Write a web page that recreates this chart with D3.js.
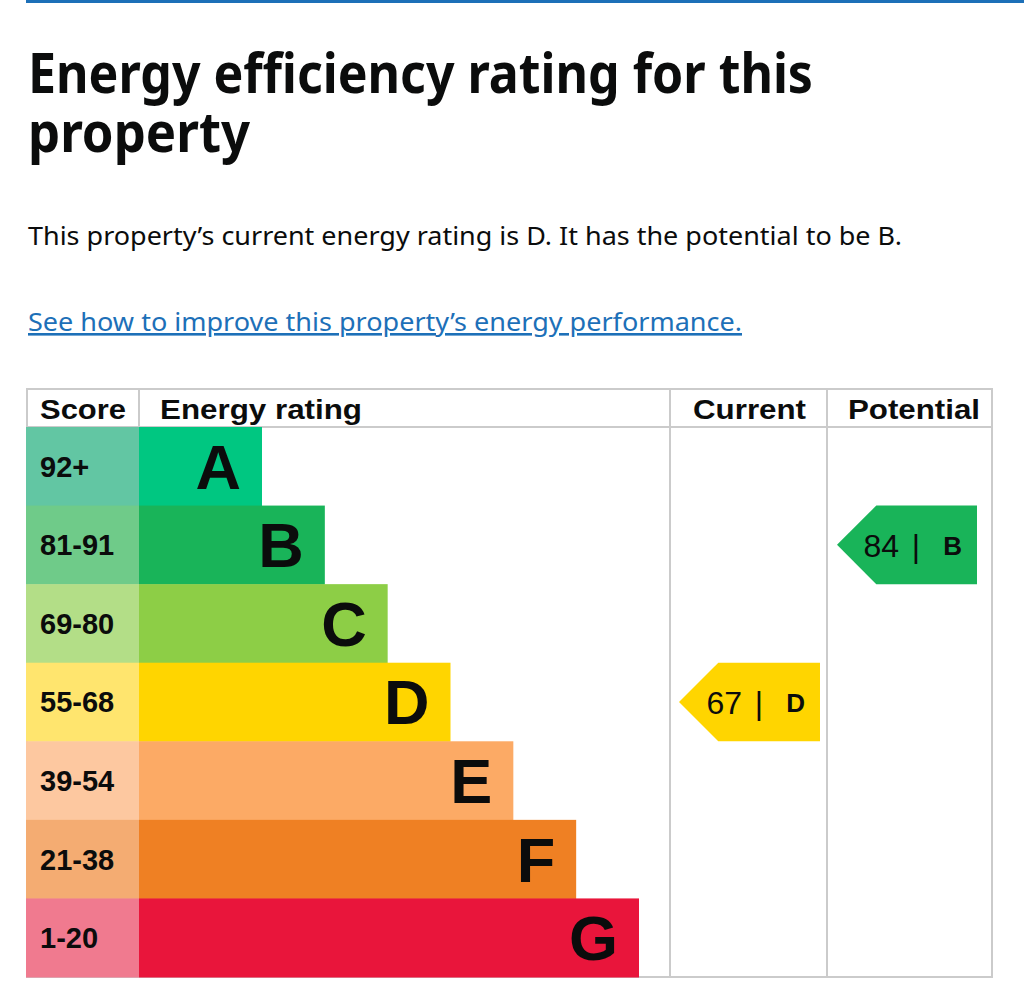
<!DOCTYPE html>
<html>
<head>
<meta charset="utf-8">
<script src="https://cdn.jsdelivr.net/npm/d3@7"></script>
<style>
  body { margin: 0; background: #fff; }
  svg { display: block; }
</style>
</head>
<body>
<svg id="epc"></svg>
<script>
// data
const ratings = ["A", "B", "C", "D", "E", "F", "G"];
const scoreRanges = ["92+", "81-91", "69-80", "55-68", "39-54", "21-38", "1-20"];
const minScores = [92, 81, 69, 55, 39, 21, 1];
const barColors = ["#00c781", "#19b459", "#8dce46", "#ffd500", "#fcaa65", "#ef8023", "#e9153b"];
const scoreColors = ["#62c6a3", "#6fcb89", "#b3de87", "#ffe56e", "#fdc8a0", "#f4ac72", "#f07a8f"];
const currentScore = 67;
const potentialScore = 84;

const width = 1024, height = 994;
const svg = d3.select("#epc").attr("width", width).attr("height", height);

const headFont = "'Noto Sans', 'Open Sans', sans-serif";
const tableFont = "'Liberation Sans', Arial, sans-serif";
const ink = "#0b0c0c";

// top rule
svg.append("rect").attr("x", 26).attr("y", 0).attr("width", width - 26).attr("height", 3).attr("fill", "#1d70b8");

// heading, wrapped over two lines in one text element
const title = svg.append("text")
  .attr("font-family", headFont).attr("font-weight", 700).attr("font-size", 55)
  .attr("fill", ink);
title.append("tspan").attr("x", 28).attr("y", 93)
  .attr("textLength", 785).attr("lengthAdjust", "spacingAndGlyphs")
  .text("Energy efficiency rating for this");
title.append("tspan").attr("x", 28).attr("y", 152)
  .attr("textLength", 222).attr("lengthAdjust", "spacingAndGlyphs")
  .text("property");

svg.append("text").attr("x", 28).attr("y", 245)
  .attr("font-family", headFont).attr("font-size", 26).attr("fill", ink)
  .attr("textLength", 874).attr("lengthAdjust", "spacingAndGlyphs")
  .text("This property\u2019s current energy rating is D. It has the potential to be B.");

svg.append("text").attr("x", 28).attr("y", 331)
  .attr("font-family", headFont).attr("font-size", 26).attr("fill", "#1d70b8")
  .attr("text-decoration", "underline")
  .attr("textLength", 714).attr("lengthAdjust", "spacingAndGlyphs")
  .text("See how to improve this property\u2019s energy performance.");

// table layout
const table = { left: 27, right: 992, top: 389, head: 427, bottom: 977 };
const cols = { score: 139, current: 670, potential: 827 };

const y = d3.scaleBand().domain(ratings).range([table.head, table.bottom]);
const barEnd = d3.scaleLinear().domain([0, ratings.length - 1]).range([262, 639]);
const bandOf = d3.scaleThreshold()
  .domain(minScores.slice(0, -1).reverse())
  .range(ratings.slice().reverse());

const grid = svg.append("g").attr("stroke", "#cbcbcb").attr("stroke-width", 2).attr("fill", "none");
grid.append("rect").attr("x", table.left).attr("y", table.top)
  .attr("width", table.right - table.left).attr("height", table.bottom - table.top);
grid.append("line").attr("x1", table.left).attr("x2", table.right).attr("y1", table.head).attr("y2", table.head);
grid.append("line").attr("x1", cols.score).attr("x2", cols.score).attr("y1", table.top).attr("y2", table.head);
[cols.current, cols.potential].forEach(cx => {
  grid.append("line").attr("x1", cx).attr("x2", cx).attr("y1", table.top).attr("y2", table.bottom);
});

// header labels
const headers = [
  { text: "Score", x: 40, len: 86 },
  { text: "Energy rating", x: 160, len: 202 },
  { text: "Current", x: 693, len: 113 },
  { text: "Potential", x: 848, len: 132 }
];
svg.selectAll(".head").data(headers).enter().append("text")
  .attr("class", "head")
  .attr("x", d => d.x).attr("y", 419)
  .attr("font-family", tableFont).attr("font-weight", 700).attr("font-size", 27)
  .attr("fill", ink)
  .attr("textLength", d => d.len).attr("lengthAdjust", "spacingAndGlyphs")
  .text(d => d.text);

// rows
const rows = svg.selectAll(".row").data(ratings).enter().append("g")
  .attr("class", "row")
  .attr("transform", d => `translate(0,${y(d)})`);

rows.append("rect")
  .attr("x", table.left - 1).attr("width", cols.score - table.left + 1)
  .attr("height", y.bandwidth() + 0.5)
  .attr("fill", (d, i) => scoreColors[i]);

rows.append("rect")
  .attr("x", cols.score).attr("width", (d, i) => barEnd(i) - cols.score)
  .attr("height", y.bandwidth() + 0.5)
  .attr("fill", (d, i) => barColors[i]);

rows.append("text")
  .attr("x", 40).attr("y", y.bandwidth() / 2 + 10.5)
  .attr("font-family", tableFont).attr("font-weight", 700).attr("font-size", 29)
  .attr("fill", ink)
  .text((d, i) => scoreRanges[i]);

rows.append("text")
  .attr("x", (d, i) => barEnd(i) - 21).attr("y", y.bandwidth() / 2 + 22.5)
  .attr("text-anchor", "end")
  .attr("font-family", tableFont).attr("font-weight", 700).attr("font-size", 63)
  .attr("fill", ink)
  .text(d => d);

// current / potential arrows
const markers = [
  { score: currentScore, left: 679, right: 820 },
  { score: potentialScore, left: 837, right: 977 }
];

markers.forEach(m => {
  const band = bandOf(m.score);
  const i = ratings.indexOf(band);
  const top = y(band), h = y.bandwidth(), cy = top + h / 2;
  const g = svg.append("g");
  g.append("polygon")
    .attr("points", [
      [m.left, cy], [m.left + h / 2, top], [m.right, top],
      [m.right, top + h], [m.left + h / 2, top + h]
    ].map(p => p.join(",")).join(" "))
    .attr("fill", barColors[i]);
  g.append("text")
    .attr("x", m.right - 78).attr("y", cy + 12)
    .attr("text-anchor", "end")
    .attr("font-family", tableFont).attr("font-size", 32).attr("fill", ink)
    .text(m.score);
  g.append("text")
    .attr("x", m.right - 61).attr("y", cy + 12)
    .attr("text-anchor", "middle")
    .attr("font-family", tableFont).attr("font-size", 32).attr("fill", ink)
    .text("|");
  g.append("text")
    .attr("x", m.right - 15).attr("y", cy + 10)
    .attr("text-anchor", "end")
    .attr("font-family", tableFont).attr("font-weight", 700).attr("font-size", 26).attr("fill", ink)
    .text(band);
});
</script>
</body>
</html>
